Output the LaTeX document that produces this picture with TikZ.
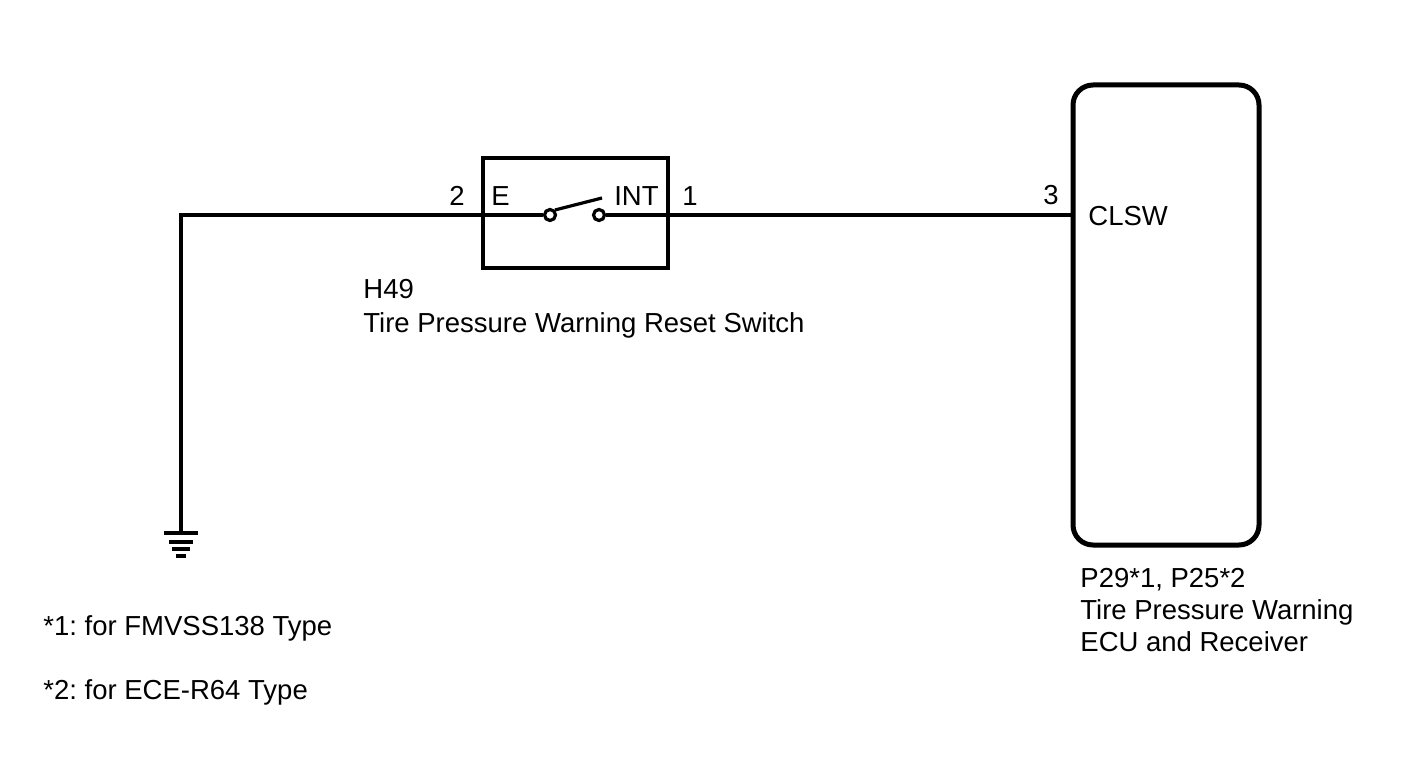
\documentclass[tikz,border=0pt]{standalone}
\usepackage{fontspec}
\setmainfont{Liberation Sans}
\frenchspacing
\begin{document}
\begin{tikzpicture}[x=0.5pt,y=-0.5pt,
  lbl/.style={inner sep=0pt,font=\fontsize{13.75}{16}\selectfont},
  wire/.style={line width=1.6pt},
  contact/.style={circle,draw,line width=1.6pt,fill=white,minimum size=5.5pt,inner sep=0pt}]
\useasboundingbox (0,0) rectangle (1424,759);
% switch box
\node[draw,line width=2pt,minimum width=92.5pt,minimum height=55pt,inner sep=0pt] (sw) at (575.5,213) {};
\node[contact] (c1) at (550,215) {};
\node[contact] (c2) at (599,215) {};
\coordinate (lv) at (602,198);
% ECU box
\node[draw,line width=2.5pt,rounded corners=10pt,minimum width=93pt,minimum height=230pt,inner sep=0pt] (ecu) at (1166,315) {};
% ground
\coordinate (gnd) at (181,533);
\coordinate (corner) at (181,215);
\draw[wire] (gnd) -- (corner) -- (c1.west);
\draw[wire] (c1.north east) -- (lv);
\draw[wire] (c2.east) -- (c2 -| ecu.west);
\draw[line width=2pt] (164,533) -- (198,533);
\draw[line width=2pt] (169,542) -- (193,542);
\draw[line width=2pt] (172,549) -- (190,549);
\draw[line width=2pt] (176,556) -- (186,556);
% labels
\node[lbl,anchor=base east] (p2) at (465,206) {2};
\node[lbl,anchor=base west] (pE) at (491,206) {E};
\node[lbl,anchor=base east] (pINT) at (659,206) {INT};
\node[lbl,anchor=base west] (p1) at (682,206) {1};
\node[lbl,anchor=base east] (p3) at (1059,205) {3};
\node[lbl,anchor=base west] (clsw) at (1088,226) {CLSW};
\node[lbl,anchor=base west] (h49) at (363,299) {H49};
\node[lbl,anchor=base west] (swname) at (363,332) {Tire Pressure Warning Reset Switch};
\node[lbl,anchor=base west] (ecuid) at (1080,587) {P29*1, P25*2};
\node[lbl,anchor=base west] (ecun1) at (1080,619) {Tire Pressure Warning};
\node[lbl,anchor=base west] (ecun2) at (1080,651) {ECU and Receiver};
\node[lbl,anchor=base west] (n1) at (43,635) {*1: for FMVSS138 Type};
\node[lbl,anchor=base west] (n2) at (43,699) {*2: for ECE-R64 Type};
\end{tikzpicture}
\end{document}
